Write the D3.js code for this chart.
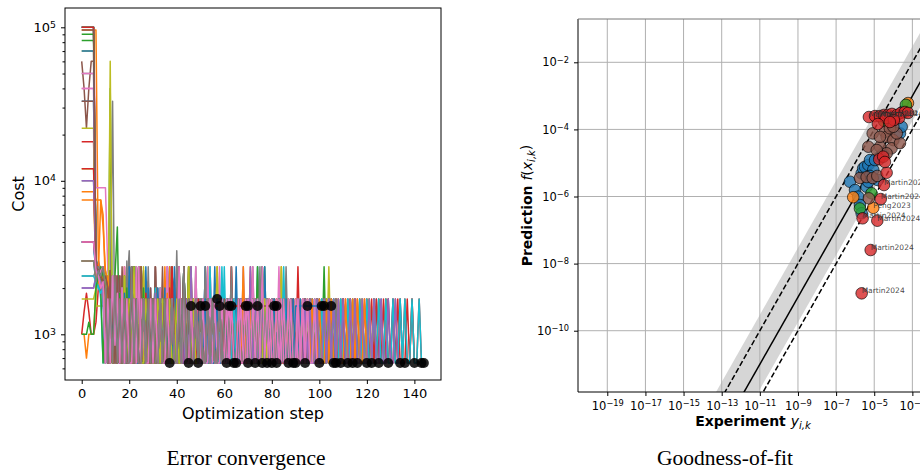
<!DOCTYPE html>
<html><head><meta charset="utf-8">
<script src="https://cdn.jsdelivr.net/npm/d3@7/dist/d3.min.js"></script>
<style>
body{margin:0;background:#fff;}
</style></head>
<body>
<svg id="chart" width="920" height="470" xmlns="http://www.w3.org/2000/svg"></svg>
<script>
// ================= DATA: Error convergence =================
// Each run is written step by step (one letter per optimisation step, spaces ignored);
// the letter is looked up in the cost level table below.
const costLevelKeys = "abcdefghijklmnopqrstuvwxABCDEFGHIJKLMNOP";
const costLevelValues = [650,670,700,760,850,1000,1200,1400,1530,1620,1700,1850,2000,2200,2400,2600,2750,3000,3500,4000,5000,6000,7500,9000,
  100000,96000,90000,82000,70000,60000,50000,40000,33000,28000,22000,18000,15000,12000,10000,8500];
const runs = [
"AAAAAAonpm oelaomdkaa nafaakcmaa kdakeaaoea akaakakaak aakakaqaak akaakakaak a",
"BBBBBBBrpo mkafkaoaka anaekalaak aqdkaeakak aldakaaaka kaakakaqaa kakaakaaka akakaakaak aakaqakaak akaakakaak aakakaakaa kaakakaaka aka",
"DDDDDDqopn ompaekaoak adkqalaaea kaamaakaka akaqaakaka akaakakaak aakakaakaa kaakakaqak aka",
"fhlhffgmnm akafamakao akaakqakaa kaakakaaka akakaaqaka kaakaakaka akaqakaaka akaakakaak aakakaakaa kaiiii",
"AAAAAApoqn makaoaakam akakaakaka aqakaakaka akakaakaak aakaqakaka kaakakaaka akaakaqaka aakakaakak iiiiiiiiii ii",
"FHKHFFrpoq ompnmoaqam kamoakpana kamaqakaom akakiiiiii iiiiiiiiii iiiiiiiiii iiiiiiiiii iiiiiiiiii iiiiiiiiii iiiiii",
"HHHHHHpnqo melaoakcka qaakakeama akdkaaqaak akaakaakak aakaqakaka akakaakaak aakakaqaka kaakakaa",
"AAAAAAqrpo pmekaoakar akeamakdak aqakaelaka akakaakaqa akaakakaak aakakaakaa kaqaakakak akaakakaak aakakaakaa kaakaka",
"EEEEEEiiii iiiiiiiiii iiiiiiiiii iiiiiiiiii iiiiiakaak akaqakaaka kaakakaaka akakaakaak aakaqakaka kaakakaaka akakaakaak aakakaakaa kaakakaaka",
"AAAAAAmoka oakamaoaka kaqakaakaa kakaakaqak aakakaakak aakaqakaka akaka",
"ttttttopmk aoekaalama oakdkaaqak acmaakakea kaakakaaka kaqakaakaa kaakakakaa kakaakaqak aakakaakak akaakaakak aakakaakaa kaakakaaka akaakakaak akaakaa",
"PPPPPPwwwu pnakaoakam akaqakaaka kaakaqakaa kaakaa",
"rrrrrrpoma kaHaakamak aqakakaaka akaakakaqa akakaakaak aakaakak",
"LLLLLLrpnq oamekaoaka kaelaqakaa kakaalakda qakaakakaa kaakakaaka akaqakaaka kaakaakaka akakaakaak aqakaakaka kaakakaaka akaakakaak aakakaakak aakakaakak a",
"rrrrrrqomk aoakamakaa kaqakaakam akakaaqaka akiiiiiiii i",
"rrrrrrpqon makaoakaqa kaakamakak aqakakaaka kaakakaaka iiiiiiiiii iii",
"AAAAAAxxxx xpmaleoaka aqakaekama kaakdkaqaa kaakakaaka akakaakaqa akaakakaak aakakaakak akaqakaaka kaakakaaka akaakakaak aakaaka",
"GGGGGGqpon makIaoakam sakaoakaqa kaakakaaka akaakaqaka kaakakaaka akaqakaaka kaakakaaka akaakaqaka kaakakaaka akaakakaak aakaa",
"NNNNNNpqom kaFaoakama oakakaqaka akaakakaak aqakaakaka kaakakaqak aakakaakak akaakaqaka kaakakaaka akaakakaak aakaqakaka kaakakaaka akakaa",
"ttttttoqnm akaoelamak aakaqakeak amakaalaka aqakaakaak akaakakaaq akaakaakak aakakaakaa kaakakaaka a",
"IIIIIIonpq makeoakcka qakaalakaa kaakemaqak aakaakakaa kaqakaakak akaakakaak aakaqakaak akaakakaak aakakaakaa kaakakaaka kaa",
"ffcfffmnpm aoakaakaqa kaakamakaa kaakakaqak aakaakakaa iii",
"AAAAAApoqn makaouakam akaqakaaka kaakakaaka akaqakaaka kaakakaaka akaakakaak aakaqakaka kaakakaaka akaakakaak aaqakaka",
"AAAAAAqpon omalaoakea kaqakaalak aakdkaamaa kaakaqakaa kaakakaaka akakaakaak aqakaakaka kaakakaaka akaakakaak aakakaakaa kaakakakaa kaakakaaka akakaakaak aaka",
"mmmmmmonpq makaoakaka aqakaakaka kaakakaaka akaqakaaka kaakakaaka akakaakaqa akakaka",
"rrrrrrqpon mapakaoaka kaqakaakam akaakakaqa akaakakaak akaiiiiiii iiiiiiiiii i",
"HHHHHHqonp makeoakaqa alaakakeak aakakaqaka kaakakaaka akaqakaaka kaakakaaka akakaakaak a",
"OOOOOOpnqo makaoakaka akaqakaaka kaakakaaka sakaakakaa kaqakaakak aakakaakaa kaakaqakaa kaakakaaka akakaakaak aakakaakaa",
"KKKKKKopqn oakamakaoa kaakaqakaa kaakakaaka akakaqaaka kaakakaaka akaakakaak aaka",
"rrrrrrnmol akaoalamak aekaqakaka kaamakaeka akaqakaaka kaakakaaka qakaakakak aakakaakaa kaakaqakaa kaakakaaka akakaakaak aakakaakaa kaakakaaka akaakakaak aakaa",
"ttttttpqom nakaoakama kaqakaakak aakakaakaq akaakakaak aakakaakaa kaakaqakaa kaiiiiiiii ii",
"wwwwwwqowv mkaoalamak aakaqaeaak akakaalaka aqakaakaka kaakakaaka akaakakaqa akakaakaak aakakaakaa kaakakakaa kaakakaaka akaakakaak a",
"CCCCCCpoqn oakamakaoa kaqakaakak aakakaakaa kaakaqakaa kaakakaaka akakiiiiii",
"ttttttqnpo makaoakaka aqakaakaka kaakakaaqa akaakakaak iiiiiiiii",
"mmmmmmopnq akamaoelak aakaqakaak alakaakeka akaakaqaka kaakakaaka akakaakaak aqakaakaka kaakakaaka akaakakaak aakakakaka kaakakaaka akakaakaak aakaa",
"IIIIIIpqon makaoakama kaakaqakaa kaakakaaka akaqakaaka kaakakaaka ka",
"GGGGGGonpq makaoalaka akaqakeaka kaamakaaka akakaakaqa akaakakaak aakakaakaa kaqakaakak aakakaakaa kaakakaaka a",
"oooooopqnm akaoakamak aqakaakaka kaakakaaka akaiiii",
"kkkkkkmonp oakamakaoa kaqakaakak aakakaakaa kaakaqakaa kaakakaaka akakaakaak aakakaaka",
"oooooonmlm akaoakamak aakaqakaak akakaakaka aqakaakaka kaakakaaka akaaka",
"EEEEEEqpon makeoakala aqakaakama kaakakeaka akaqakaaka kaakakaaka akakaakaak aakakaqaka kaakakaaka iiiiiiiiii iii",
"rrrrrronmp akaoakamak aakaqakaak akakaaka",
"fffgffmonp mekaoalaka aqakaamaka kaakakaaka akaqakaaka kaakakaaka akakaakaak aakakaqaka kaakakaaka",
"NNNNNNqpon makaoakaka aqakaakaka kaakakaaka akaqakaaka kaakakaaka iiiiiiiiii iiiii",
"OOOOOOponm akaoakamak aakaqakaak akakaakaka aqakaakaka",
"BBBBBBqpon omakaoakak aakaqakaak akakaakaka aqakaakaka kaakakaaka akakaakaak iiiiiiiiii iii",
"ttttttpomn akaoelamak aakaqakaak akakaakaka aqakaakaka kaakakaaka akakaakaak aakakaqaka kaakakaaka akaka",
"rrrrrrnpoq makaoakaka aqakaakaka kaakakaaka akaqakaaka kaakakaaka iiii"
];
const stepTicks = [0,20,40,60,80,100,120,140];
const costTickExps = [3,4,5];

// ================= DATA: Goodness-of-fit =================
const sourceNames = ["blue","orange","green","brown","red"];
const expValues = [
 5.33e-7,9.8e-7,1.44e-6,2.19e-6,2.63e-6,3.24e-6,3.98e-6,4.9e-6,6.0e-6,8.9e-6,1.1e-5,2.0e-5,1.78e-6,2.19e-6,2.24e-4,2.75e-4,3.24e-4,1.55e-5,6.0e-6,2.95e-5,4.9e-6,
 7.9e-7,8.9e-6,5.9e-4,
 4.57e-4,7.2e-6,1.78e-6,3.24e-5,
 8.3e-6,3.63e-5,4.47e-5,1.0e-4,2.0e-5,4.9e-6,8.1e-5,2.24e-4,1.51e-4,6.6e-5,4.47e-5,1.35e-5,2.0e-5,1.0e-4,1.78e-6,3.98e-6,8.3e-6,1.45e-5,5.25e-6,
 5.25e-6,1.1e-5,2.0e-5,3.24e-5,5.25e-5,8.5e-5,1.55e-4,2.51e-4,4.07e-4,5.9e-4,2.0e-4,4.07e-5,1.07e-4,6.6e-5,1.55e-5,1.82e-5,2.95e-5,4.47e-5,3.63e-5,3.24e-5,2.19e-5,1.45e-5,2.45e-6,6.5e-6,2.19e-6];
const predValues = [
 2.76e-6,1.56e-6,9.9e-7,4.9e-6,6.9e-6,7.7e-6,1.96e-6,8.7e-6,1.22e-5,6.2e-6,1.22e-5,1.54e-5,5.6e-7,3.16e-7,7.6e-5,1.2e-4,3.4e-4,3.1e-6,4.1e-6,1.94e-5,2.76e-6,
 9.5e-7,4.6e-7,6.1e-4,
 5.4e-4,1.25e-6,4.4e-7,1.78e-4,
 7.6e-5,8.5e-5,6.0e-5,4.8e-5,3.05e-5,3.05e-5,2.74e-5,3.9e-5,7.6e-5,1.08e-4,1.94e-5,2.43e-5,6.0e-5,1.2e-4,3.56e-6,3.8e-6,3.56e-6,4.1e-6,8.8e-7,
 2.34e-4,2.5e-4,2.5e-4,2.7e-4,2.7e-4,2.9e-4,2.7e-4,3.1e-4,3.3e-4,3.1e-4,2.19e-4,2.19e-4,1.9e-4,1.66e-4,1.45e-4,1.29e-5,1.54e-5,5.1e-6,1.07e-5,2.2e-6,8.4e-7,1.9e-7,2.24e-7,2.54e-8,1.3e-9];
const pointSource = [
 0,0,0,0,0,0,0,0,0,0,0,0,0,0,0,0,0,0,0,0,0,
 1,1,1,
 2,2,2,2,
 3,3,3,3,3,3,3,3,3,3,3,3,3,3,3,3,3,3,3,
 4,4,4,4,4,4,4,4,4,4,4,4,4,4,4,4,4,4,4,4,4,4,4,4,4];
const pointLabels = [
 "","","","","","","","","","","","","","","","","","","","","",
 "","Peng2023","",
 "","","","",
 "","","","","","","","","","","","","","","","","","","",
 "Martin2024","Martin2024","Martin2024","","","","","","","","","","","","","","","","",
 "Martin2024","Martin2024","Martin2024","Martin2024","Martin2024","Martin2024"];
const expTickExps = [-19,-17,-15,-13,-11,-9,-7,-5,-3];
const predTickExps = [-2,-4,-6,-8,-10];
const identityEnds = [1e-22, 1];
const dashedFactor = 10;          // dashed lines at 10x and 1/10x
const bandUpperFactor = 29.5;     // shaded band above the identity
const bandLowerFactor = 0.178;    // shaded band below the identity

// ================= DRAWING =================
const SANS = "'DejaVu Sans', sans-serif";
const SERIF = "'Liberation Serif', 'DejaVu Serif', serif";
const tab10 = ["#1f77b4","#ff7f0e","#2ca02c","#d62728","#9467bd","#8c564b","#e377c2","#7f7f7f","#bcbd22","#17becf"];
const sourceColors = {blue:"#1f77b4",orange:"#ff7f0e",green:"#2ca02c",brown:"#8c564b",red:"#d62728"};
const svg = d3.select("#chart").style("font-family", SANS);
const MINUS = "\u2212";
function powLabel(sel, size){
  sel.each(function(d){
    const t = d3.select(this); const e = Math.round(Math.log10(d));
    t.text(null);
    t.append("tspan").text("10");
    t.append("tspan").attr("dy","-0.45em").style("font-size", (size*0.72)+"px").text(e<0 ? MINUS+(-e) : String(e));
  });
}
function styleTicks(sel, size){
  sel.style("font-size", size+"px").style("font-family", SANS).attr("fill","#000");
}

// ---------- left panel ----------
const L = {x0:65, x1:441, y0:8, y1:380};
const xL = d3.scaleLinear().domain([-7.03,151.2]).range([L.x0,L.x1]);
const yL = d3.scaleLog().domain([503.9,133600]).range([L.y1,L.y0]);
const levelOf = {};
costLevelKeys.split("").forEach((k,i)=>{ levelOf[k]=costLevelValues[i]; });
const series = runs.map(s => s.replace(/ /g,"").split("").map((c,i)=>({step:i, cost:levelOf[c]})));

const gL = svg.append("g");
gL.append("clipPath").attr("id","clipL").append("rect")
  .attr("x",L.x0).attr("y",L.y0).attr("width",L.x1-L.x0).attr("height",L.y1-L.y0);
const lineL = d3.line().x(d=>xL(d.step)).y(d=>yL(d.cost));
const plotL = gL.append("g").attr("clip-path","url(#clipL)");
series.forEach((s,i)=>{
  plotL.append("path").datum(s).attr("d",lineL).attr("fill","none")
    .attr("stroke",tab10[i%10]).attr("stroke-width",1.5).attr("stroke-linejoin","round");
});
plotL.selectAll("circle.end").data(series.map(s=>s[s.length-1])).join("circle")
  .attr("class","end").attr("cx",d=>xL(d.step)).attr("cy",d=>yL(d.cost)).attr("r",5)
  .attr("fill","#000").attr("fill-opacity",0.85);

const axXL = gL.append("g").attr("transform",`translate(0,${L.y1})`)
  .call(d3.axisBottom(xL).tickValues(stepTicks).tickSize(4).tickPadding(5));
axXL.select(".domain").remove();
axXL.selectAll("text").call(styleTicks, 13);
const majorCost = costTickExps.map(e=>Math.pow(10,e));
const minorCost = [];
[2,3,4].forEach(e=>{ for(let m=2;m<=9;m++){ const v=m*Math.pow(10,e); if(v>503.9 && v<133600) minorCost.push(v);} });
const axYLm = gL.append("g").attr("transform",`translate(${L.x0},0)`)
  .call(d3.axisLeft(yL).tickValues(minorCost).tickSize(2.5).tickFormat(""));
axYLm.select(".domain").remove();
const axYL = gL.append("g").attr("transform",`translate(${L.x0},0)`)
  .call(d3.axisLeft(yL).tickValues(majorCost).tickSize(4).tickPadding(5));
axYL.select(".domain").remove();
axYL.selectAll("text").call(styleTicks, 13).call(powLabel, 13);
gL.append("rect").attr("x",L.x0).attr("y",L.y0).attr("width",L.x1-L.x0).attr("height",L.y1-L.y0)
  .attr("fill","none").attr("stroke","#000").attr("stroke-width",1);
gL.append("text").attr("x",(L.x0+L.x1)/2).attr("y",419).attr("text-anchor","middle").style("font-size","16px").text("Optimization step");
gL.append("text").attr("transform",`translate(24,${(L.y0+L.y1)/2}) rotate(-90)`).attr("text-anchor","middle").style("font-size","16px").text("Cost");

// ---------- right panel ----------
const R = {x0:578, x1:928, y0:19, y1:392};
const xR = d3.scaleLog().domain([Math.pow(10,-20.536),Math.pow(10,-2.18)]).range([R.x0,R.x1]);
const yR = d3.scaleLog().domain([Math.pow(10,-11.827),Math.pow(10,-0.709)]).range([R.y1,R.y0]);
const gR = svg.append("g");
gR.append("clipPath").attr("id","clipR").append("rect")
  .attr("x",R.x0).attr("y",R.y0).attr("width",R.x1-R.x0).attr("height",R.y1-R.y0);
const plotR = gR.append("g").attr("clip-path","url(#clipR)");
const area = d3.area().x(d=>xR(d)).y0(d=>yR(d*bandLowerFactor)).y1(d=>yR(d*bandUpperFactor));
plotR.append("path").datum(identityEnds).attr("d",area).attr("fill","#d6d6d6");
const expTicks = expTickExps.map(e=>Math.pow(10,e));
const predTicks = predTickExps.map(e=>Math.pow(10,e));
plotR.selectAll("line.gx").data(expTicks).join("line").attr("class","gx")
  .attr("x1",d=>xR(d)).attr("x2",d=>xR(d)).attr("y1",R.y0).attr("y2",R.y1)
  .attr("stroke","#b0b0b0").attr("stroke-width",1);
plotR.selectAll("line.gy").data(predTicks).join("line").attr("class","gy")
  .attr("y1",d=>yR(d)).attr("y2",d=>yR(d)).attr("x1",R.x0).attr("x2",R.x1)
  .attr("stroke","#b0b0b0").attr("stroke-width",1);
const lineR = d3.line().x(d=>xR(d[0])).y(d=>yR(d[1]));
plotR.append("path").datum(identityEnds.map(v=>[v,v])).attr("d",lineR).attr("stroke","#000").attr("stroke-width",1.5).attr("fill","none");
plotR.append("path").datum(identityEnds.map(v=>[v,v*dashedFactor])).attr("d",lineR).attr("stroke","#000").attr("stroke-width",1.5).attr("stroke-dasharray","5.5,2.5").attr("fill","none");
plotR.append("path").datum(identityEnds.map(v=>[v,v/dashedFactor])).attr("d",lineR).attr("stroke","#000").attr("stroke-width",1.5).attr("stroke-dasharray","5.5,2.5").attr("fill","none");
const pts = expValues.map((e,i)=>({e, p:predValues[i], s:sourceNames[pointSource[i]], lab:pointLabels[i]}));
plotR.selectAll("circle.pt").data(pts).join("circle").attr("class","pt")
  .attr("cx",d=>xR(d.e)).attr("cy",d=>yR(d.p)).attr("r",5.8)
  .attr("fill",d=>sourceColors[d.s]).attr("fill-opacity",0.8)
  .attr("stroke","#000").attr("stroke-opacity",0.8).attr("stroke-width",0.8);
gR.selectAll("text.lab").data(pts.filter(d=>d.lab)).join("text").attr("class","lab")
  .attr("x",d=>xR(d.e)).attr("y",d=>yR(d.p)).style("font-size","7.5px").attr("fill","#333").attr("fill-opacity",0.9)
  .text(d=>d.lab);
const axXR = gR.append("g").attr("transform",`translate(0,${R.y1})`)
  .call(d3.axisBottom(xR).tickValues(expTicks).tickSize(4).tickPadding(6));
axXR.select(".domain").remove();
axXR.selectAll("text").call(styleTicks, 11.5).call(powLabel, 11.5);
const axYR = gR.append("g").attr("transform",`translate(${R.x0},0)`)
  .call(d3.axisLeft(yR).tickValues(predTicks).tickSize(4).tickPadding(5));
axYR.select(".domain").remove();
axYR.selectAll("text").call(styleTicks, 11.5).call(powLabel, 11.5);
gR.append("line").attr("x1",R.x0).attr("x2",R.x0).attr("y1",R.y0).attr("y2",R.y1).attr("stroke","#000").attr("stroke-width",1);
gR.append("line").attr("x1",R.x0).attr("x2",R.x1).attr("y1",R.y1).attr("y2",R.y1).attr("stroke","#000").attr("stroke-width",1);
gR.append("line").attr("x1",R.x0).attr("x2",R.x1).attr("y1",R.y0).attr("y2",R.y0).attr("stroke","#777").attr("stroke-width",1);
const xlab = gR.append("text").attr("x",(R.x0+R.x1)/2).attr("y",426).attr("text-anchor","middle").style("font-size","14px");
xlab.append("tspan").style("font-weight","bold").text("Experiment ");
xlab.append("tspan").style("font-style","italic").text("y");
xlab.append("tspan").style("font-style","italic").style("font-size","10px").attr("dy","0.3em").text("i,k");
const ylab = gR.append("text").attr("transform",`translate(532,${(R.y0+R.y1)/2}) rotate(-90)`).attr("text-anchor","middle").style("font-size","14px");
ylab.append("tspan").style("font-weight","bold").text("Prediction ");
ylab.append("tspan").style("font-style","italic").text("f");
ylab.append("tspan").text("(");
ylab.append("tspan").style("font-style","italic").text("x");
ylab.append("tspan").style("font-style","italic").style("font-size","10px").attr("dy","0.3em").text("i,k");
ylab.append("tspan").attr("dy","-0.3em").text(")");

// captions
svg.append("text").attr("x",246).attr("y",465).attr("text-anchor","middle")
  .style("font-family",SERIF).style("font-size","21.5px").text("Error convergence");
svg.append("text").attr("x",725).attr("y",465).attr("text-anchor","middle")
  .style("font-family",SERIF).style("font-size","21.5px").text("Goodness-of-fit");
</script>
</body></html>
